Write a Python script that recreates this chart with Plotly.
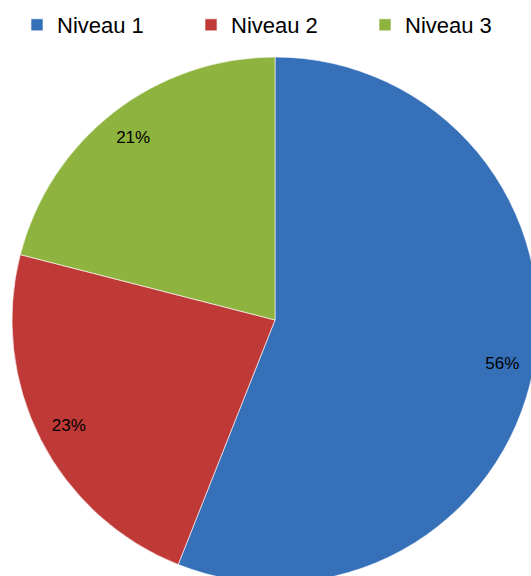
import plotly.graph_objects as go

labels = ["Niveau 1", "Niveau 2", "Niveau 3"]
values = [56, 23, 21]
colors = ["#3670b9", "#bf3a37", "#8eb43f"]

fig = go.Figure()
fig.add_trace(go.Pie(
    labels=labels, values=values, sort=False, direction="clockwise", rotation=0,
    marker=dict(colors=colors, line=dict(color="white", width=0.6)),
    textinfo="none", hoverinfo="label+percent", showlegend=True,
))
# overlay ring carries the percentage labels near the rim
fig.add_trace(go.Pie(
    labels=labels, values=values, sort=False, direction="clockwise", rotation=0,
    hole=0.76, marker=dict(colors=["rgba(0,0,0,0)"] * 3, line=dict(width=0)),
    textinfo="percent", textposition="inside", insidetextorientation="horizontal",
    textfont=dict(family="Liberation Sans, Arial, sans-serif", size=17, color="black"),
    hoverinfo="skip", showlegend=False,
))

fig.update_layout(
    width=538, height=583,
    margin=dict(l=12, r=0, t=57, b=0),
    paper_bgcolor="white", plot_bgcolor="white",
    font=dict(family="Liberation Sans, Arial, sans-serif", color="black"),
    legend=dict(
        orientation="h", xref="container", yref="container",
        x=17 / 538, xanchor="left", y=1 - 4 / 583, yanchor="top",
        font=dict(size=22), entrywidth=129, entrywidthmode="pixels",
        traceorder="normal",
    ),
)

fig.write_html(
    "out.html",
    config={"displayModeBar": False},
    post_script="document.body.style.margin='0';document.body.style.overflow='hidden';"
                "document.documentElement.style.overflow='hidden';",
)
